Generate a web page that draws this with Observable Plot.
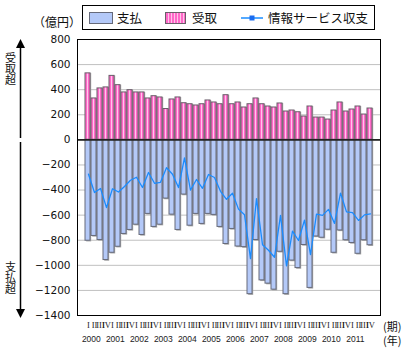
<!DOCTYPE html>
<html><head><meta charset="utf-8">
<script src="https://cdn.jsdelivr.net/npm/d3@7"></script>
<script src="https://cdn.jsdelivr.net/npm/@observablehq/plot@0.6"></script>
<style>body{margin:0;background:#fff}#chart{width:408px;height:353px}</style>
</head><body><div id="chart"></div>
<script>
const years = ["2000","2001","2002","2003","2004","2005","2006","2007","2008","2009","2010","2011"];
const quarterLabels = ["I","II","III","IV"];
const receipts = [530,330,410,418,510,436,378,396,378,378,330,348,338,246,322,338,292,284,274,284,314,298,284,356,284,298,258,284,330,284,266,258,290,226,234,220,186,266,178,178,162,234,298,226,242,266,202,250];
const payments = [-804,-766,-798,-958,-900,-852,-750,-718,-676,-758,-590,-694,-676,-468,-596,-718,-436,-684,-590,-670,-590,-598,-694,-830,-710,-850,-855,-1230,-798,-1120,-1146,-1194,-892,-1230,-962,-1022,-838,-1180,-770,-780,-716,-900,-722,-800,-822,-908,-800,-840];
const balance = [-274,-420,-388,-540,-390,-416,-372,-322,-298,-380,-260,-346,-338,-222,-274,-380,-144,-400,-316,-386,-276,-300,-410,-474,-426,-552,-597,-946,-468,-836,-880,-936,-602,-1004,-728,-802,-640,-914,-592,-602,-554,-666,-424,-574,-580,-642,-598,-590];
const yTicks = [800,600,400,200,0,-200,-400,-600,-800,-1000,-1200,-1400];
const legendLabels = ["支払","受取","情報サービス収支"];
const unitLabel = "（億円）";
const periodLabel = "(期)";
const yearLabel = "(年)";
const upLabel = "受取超";
const downLabel = "支払超";

const data = receipts.map((r, i) => ({i, q: quarterLabels[i % 4], receipts: r, payments: payments[i], balance: balance[i]}));
const yearData = years.map((y, k) => ({y, i: k * 4 + 1}));

const JP = "'Noto Sans CJK JP', 'Noto Sans', sans-serif";
const BLUE = "#b4c9f8";
const PINK_KEY = "#ff77cd";
const LINE = "#1a8cff";

const plot = Plot.plot({
  width: 408, height: 353,
  marginLeft: 77, marginRight: 28, marginTop: 39, marginBottom: 38,
  x: {type: "band", domain: d3.range(48), padding: 0, axis: null},
  y: {domain: [-1400, 800], axis: null},
  style: {fontFamily: "DejaVu Sans", fontSize: "10.5px", background: "white", overflow: "visible"},
  marks: [
    Plot.ruleY(yTicks, {stroke: "#c0c0c0", strokeWidth: 1}),
    Plot.barY(data, {x: "i", y: "receipts", fill: "#a8a8a8", insetRight: 1, dx: 1.2}),
    Plot.barY(data, {x: "i", y: "payments", fill: "#a8a8a8", insetRight: 1, dx: 1.2, dy: 1.2}),
    Plot.barY(data, {x: "i", y: "receipts", fill: PINK_KEY, stroke: "#6a5f6a", strokeWidth: 1, insetRight: 1}),
    Plot.barY(data, {x: "i", y: "payments", fill: BLUE, stroke: "#666a7a", strokeWidth: 1, insetRight: 1}),
    Plot.ruleY([0], {stroke: "#222", strokeWidth: 1.6}),
    Plot.line(data, {x: "i", y: "balance", stroke: LINE, strokeWidth: 1.3}),
    Plot.frame({stroke: "#000", strokeWidth: 1}),
    Plot.text(yTicks, {y: d => d, text: d => d < 0 ? "−" + (-d) : String(d), frameAnchor: "left", textAnchor: "end", dx: -7, fill: "#111", fontSize: 10.5}),
    Plot.text(data, {x: "i", text: "q", frameAnchor: "bottom", dy: 12, fontFamily: "Liberation Serif", fontSize: 8.5, fill: "#222", ariaLabel: "quarter"}),
    Plot.text(yearData, {x: "i", text: "y", frameAnchor: "bottom", dy: 26, dx: -3.15, fontFamily: "'Liberation Sans', sans-serif", fontSize: 8.5, fill: "#222", ariaLabel: "year"})
  ]
});

const svg = d3.select(plot);
const defs = svg.insert("defs", ":first-child");
const pat = defs.append("pattern").attr("id", "pinkStripe").attr("patternUnits", "userSpaceOnUse").attr("width", 3).attr("height", 4);
pat.append("rect").attr("width", 3).attr("height", 4).attr("fill", "#ff68c8");
pat.append("rect").attr("width", 1).attr("height", 4).attr("fill", "#ffc4ea");
svg.selectAll(`[fill="${PINK_KEY}"]`).attr("fill", "url(#pinkStripe)");

// legend
const lg = svg.append("g").attr("font-family", JP).attr("font-size", 12.5).attr("fill", "#111").attr("text-anchor", "start");
lg.append("rect").attr("x", 82.5).attr("y", 5.5).attr("width", 292).attr("height", 24).attr("fill", "white").attr("stroke", "#000");
lg.append("rect").attr("x", 89.5).attr("y", 12.5).attr("width", 23).attr("height", 11).attr("fill", BLUE).attr("stroke", "#666a7a");
lg.append("text").attr("x", 117).attr("y", 22.5).text(legendLabels[0]);
lg.append("rect").attr("x", 165.5).attr("y", 12.5).attr("width", 20).attr("height", 11).attr("fill", "url(#pinkStripe)").attr("stroke", "#6a5f6a");
lg.append("text").attr("x", 192).attr("y", 22.5).text(legendLabels[1]);
lg.append("line").attr("x1", 241).attr("x2", 263).attr("y1", 18).attr("y2", 18).attr("stroke", LINE).attr("stroke-width", 1.5);
lg.append("rect").attr("x", 249.5).attr("y", 15.5).attr("width", 5).attr("height", 5).attr("fill", "#1a6cf0");
lg.append("text").attr("x", 268).attr("y", 22.5).text(legendLabels[2]);

// unit and axis-end labels
const tx = svg.append("g").attr("font-family", JP).attr("fill", "#111").attr("text-anchor", "start");
tx.append("text").attr("x", 33).attr("y", 27).attr("font-size", 12).text(unitLabel);
tx.append("text").attr("x", 383).attr("y", 331).attr("font-size", 11).text(periodLabel);
tx.append("text").attr("x", 383).attr("y", 345).attr("font-size", 11).text(yearLabel);

// left arrows
const ar = svg.append("g").attr("stroke", "#000").attr("fill", "#000");
ar.append("line").attr("x1", 20.5).attr("x2", 20.5).attr("y1", 46).attr("y2", 138).attr("stroke-width", 1.5);
ar.append("path").attr("d", "M20.5,39 L16,48 L25,48 Z").attr("stroke", "none");
ar.append("line").attr("x1", 20.5).attr("x2", 20.5).attr("y1", 142).attr("y2", 310).attr("stroke-width", 1.5);
ar.append("path").attr("d", "M20.5,318 L16,309 L25,309 Z").attr("stroke", "none");
const vt = svg.append("g").attr("font-family", JP).attr("font-size", 11).attr("fill", "#111").attr("text-anchor", "middle");
[...upLabel].forEach((c, k) => vt.append("text").attr("x", 10.5).attr("y", 62 + k * 11).text(c));
[...downLabel].forEach((c, k) => vt.append("text").attr("x", 10.5).attr("y", 271 + k * 11).text(c));

document.getElementById("chart").appendChild(plot);

// condense axis labels horizontally (the reference uses a condensed face)
function condense(sel, maxW) {
  svg.selectAll(sel).each(function () {
    const w = this.getComputedTextLength();
    if (w > maxW) {
      const s = maxW / w;
      const t = this.getAttribute("transform") || "";
      this.setAttribute("transform", (t + ` scale(${s.toFixed(3)},1)`).trim());
    }
  });
}
condense('g[aria-label="quarter"] text', 4.6);
condense('g[aria-label="year"] text', 15);
</script>
</body></html>
